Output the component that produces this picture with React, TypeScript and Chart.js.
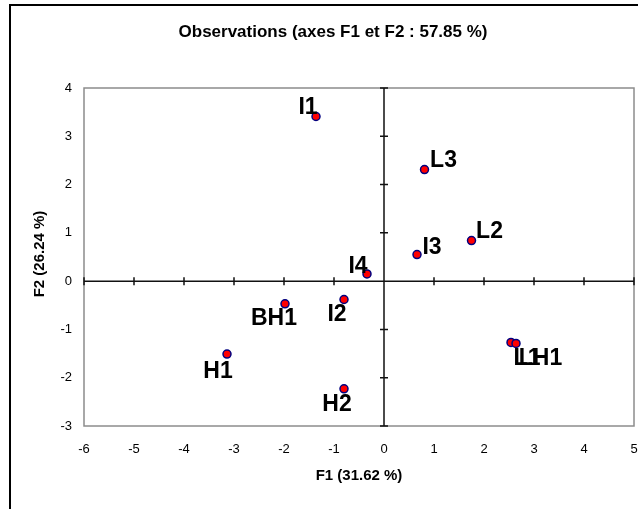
import React, { useEffect, useRef } from "react";
import { Chart, registerables } from "chart.js";

Chart.register(...registerables);

// ---- data ----
const names = ["I1", "L3", "L2", "I3", "I4", "BH1", "I2", "H1", "H2", "L1", "LH1"];
const f1 = [-1.36, 0.81, 1.75, 0.66, -0.34, -1.98, -0.8, -3.14, -0.8, 2.54, 2.64];
const f2 = [3.41, 2.31, 0.84, 0.55, 0.15, -0.47, -0.38, -1.51, -2.23, -1.27, -1.29];
const xTicks = [-6, -5, -4, -3, -2, -1, 0, 1, 2, 3, 4, 5];
const yTicks = [-3, -2, -1, 0, 1, 2, 3, 4];
const chartTitle = "Observations (axes F1 et F2 : 57.85 %)";
const xTitle = "F1 (31.62 %)";
const yTitle = "F2 (26.24 %)";

// ---- style: label placement (pixel offset of label centre from its point) ----
const labelOffsets: Record<string, [number, number]> = {
  I1: [-8, -10.5],
  L3: [19, -11],
  L2: [18, -11],
  I3: [15, -9],
  I4: [-9, -9],
  BH1: [-11, 13],
  I2: [-7, 13],
  H1: [-9, 16],
  H2: [-7, 14],
  L1: [16, 14],
  LH1: [24.5, 13],
};

const FONT = "'Liberation Sans', Arial, sans-serif";

const decorPlugin = {
  id: "decor",
  beforeDraw(chart: any) {
    const { ctx, width, height } = chart;
    ctx.save();
    ctx.fillStyle = "#ffffff";
    ctx.fillRect(0, 0, width, height);
    // outer frame (top and left visible)
    ctx.strokeStyle = "#000000";
    ctx.lineWidth = 2;
    ctx.beginPath();
    ctx.moveTo(10, height + 2);
    ctx.lineTo(10, 5);
    ctx.lineTo(638, 5);
    ctx.stroke();
    // title
    ctx.fillStyle = "#000";
    ctx.textAlign = "center";
    ctx.textBaseline = "middle";
    ctx.font = `bold 17px ${FONT}`;
    ctx.fillText(chartTitle, 333, 32);
    // axis titles
    const ca = chart.chartArea;
    ctx.font = `bold 15px ${FONT}`;
    ctx.fillText(xTitle, (ca.left + ca.right) / 2, 476);
    ctx.translate(40, (ca.top + ca.bottom) / 2 - 3);
    ctx.rotate(-Math.PI / 2);
    ctx.fillText(yTitle, 0, 0);
    ctx.restore();
  },
  beforeDatasetsDraw(chart: any) {
    const { ctx, chartArea: ca, scales } = chart;
    const xs = scales.x;
    const ys = scales.y;
    ctx.save();
    // plot border
    ctx.strokeStyle = "#8c8c8c";
    ctx.lineWidth = 1.5;
    ctx.strokeRect(ca.left, ca.top, ca.right - ca.left, ca.bottom - ca.top);
    // zero axes
    const x0 = xs.getPixelForValue(0);
    const y0 = ys.getPixelForValue(0);
    ctx.strokeStyle = "#111111";
    ctx.lineWidth = 1.5;
    ctx.beginPath();
    ctx.moveTo(ca.left, y0);
    ctx.lineTo(ca.right, y0);
    ctx.moveTo(x0, ca.top);
    ctx.lineTo(x0, ca.bottom);
    for (const v of xTicks) {
      const px = xs.getPixelForValue(v);
      ctx.moveTo(px, y0 - 4);
      ctx.lineTo(px, y0 + 4);
    }
    for (const v of yTicks) {
      const py = ys.getPixelForValue(v);
      ctx.moveTo(x0 - 4, py);
      ctx.lineTo(x0 + 4, py);
    }
    ctx.stroke();
    ctx.restore();
  },
  afterDatasetsDraw(chart: any) {
    const { ctx, scales } = chart;
    ctx.save();
    ctx.fillStyle = "#000";
    const fs = 23;
    ctx.font = `bold ${fs}px ${FONT}`;
    ctx.textAlign = "center";
    ctx.textBaseline = "alphabetic";
    names.forEach((n, i) => {
      const px = scales.x.getPixelForValue(f1[i]);
      const py = scales.y.getPixelForValue(f2[i]);
      const off = labelOffsets[n] || [0, 0];
      ctx.fillText(n, px + off[0], py + off[1] + fs * 0.358);
    });
    ctx.restore();
  },
};

export default function App() {
  const ref = useRef<HTMLCanvasElement | null>(null);
  useEffect(() => {
    if (!ref.current) return;
    const chart = new Chart(ref.current, {
      type: "scatter",
      data: {
        datasets: [
          {
            label: "Observations",
            data: names.map((_, i) => ({ x: f1[i], y: f2[i] })),
            backgroundColor: "#ff0000",
            borderColor: "#000080",
            borderWidth: 1.5,
            pointRadius: 4,
            pointHoverRadius: 4,
          },
        ],
      },
      options: {
        responsive: false,
        animation: false,
        devicePixelRatio: 1,
        layout: { padding: { top: 88, right: 10, bottom: 0, left: 0 } },
        plugins: {
          legend: { display: false },
          tooltip: { enabled: false },
          title: { display: false },
        },
        scales: {
          x: {
            type: "linear",
            position: "bottom",
            min: -6,
            max: 5,
            afterBuildTicks: (s: any) => {
              s.ticks = xTicks.map((v) => ({ value: v }));
            },
            afterFit: (s: any) => {
              s.height = 83;
              s.paddingLeft = 0;
              s.paddingRight = 0;
            },
            grid: { display: false, drawTicks: false },
            border: { display: false },
            ticks: {
              color: "#000",
              font: { family: FONT, size: 13 },
              padding: 16,
              maxRotation: 0,
              autoSkip: false,
            },
          },
          y: {
            type: "linear",
            position: "left",
            min: -3,
            max: 4,
            afterBuildTicks: (s: any) => {
              s.ticks = yTicks.map((v) => ({ value: v }));
            },
            afterFit: (s: any) => {
              s.width = 84;
              s.paddingTop = 0;
              s.paddingBottom = 0;
            },
            grid: { display: false, drawTicks: false },
            border: { display: false },
            ticks: {
              color: "#000",
              font: { family: FONT, size: 13 },
              padding: 12,
              autoSkip: false,
            },
          },
        },
      },
      plugins: [decorPlugin],
    });
    return () => chart.destroy();
  }, []);
  return (
    <canvas
      ref={ref}
      width={644}
      height={509}
      style={{ position: "fixed", left: 0, top: 0, width: 644, height: 509 }}
    />
  );
}
